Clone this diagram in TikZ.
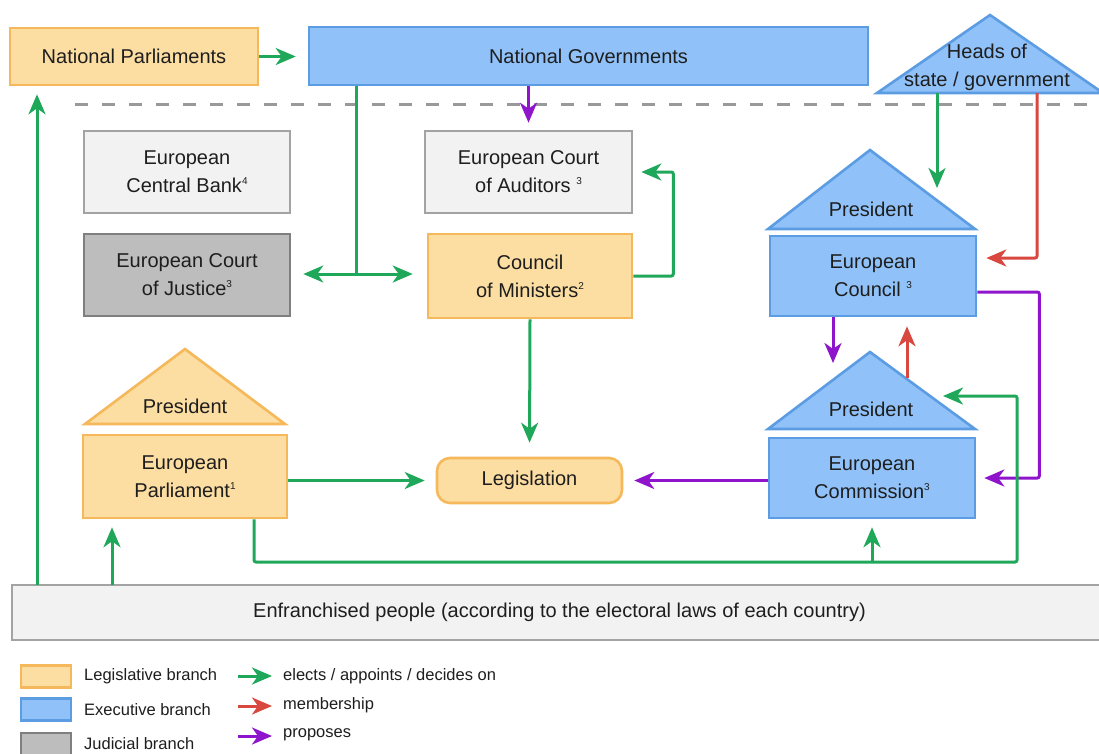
\documentclass[tikz,border=0pt]{standalone}
\usepackage{fontspec}
\setmainfont{Liberation Sans}
\usetikzlibrary{arrows.meta,calc}
\definecolor{ofill}{HTML}{FCDDA2}
\definecolor{odraw}{HTML}{F5B85A}
\definecolor{bfill}{HTML}{90C2F9}
\definecolor{bdraw}{HTML}{5B9CE2}
\definecolor{lgfill}{HTML}{F2F2F2}
\definecolor{lgdraw}{HTML}{A3A3A3}
\definecolor{dgfill}{HTML}{BDBDBD}
\definecolor{dgdraw}{HTML}{7F7F7F}
\definecolor{cgreen}{HTML}{1FA85A}
\definecolor{cred}{HTML}{D8483F}
\definecolor{cpurple}{HTML}{8E15CC}
\definecolor{cdash}{HTML}{999999}
\definecolor{txt}{HTML}{1E1E1E}
\newcommand{\sups}[1]{\raisebox{8pt}{\fontsize{10}{10}\selectfont #1}}
\begin{document}
\begin{tikzpicture}[x=1pt,y=-1pt,
  every node/.style={font=\fontsize{20}{28}\selectfont, text=txt, align=center, inner sep=0pt},
  obox/.style={draw=odraw, fill=ofill, line width=2.6pt},
  bbox/.style={draw=bdraw, fill=bfill, line width=2.6pt},
  lgbox/.style={draw=lgdraw, fill=lgfill, line width=2.6pt},
  dgbox/.style={draw=dgdraw, fill=dgfill, line width=2.6pt},
  arrtip/.style={-{Stealth[length=20pt,width=17pt,inset=6pt]}},
  ga/.style={draw=cgreen, line width=3pt, arrtip, rounded corners=2pt},
  ra/.style={draw=cred, line width=3pt, arrtip, rounded corners=2pt},
  pa/.style={draw=cpurple, line width=3pt, arrtip, rounded corners=2pt},
  legtext/.style={font=\fontsize{16.5}{16.5}\selectfont, anchor=west}
]
\useasboundingbox[fill=white] (0,0) rectangle (1099,753);

% dashed separator
\draw[draw=cdash, line width=3pt, dash pattern=on 13pt off 14pt] (75,104) -- (1099,104);

% top row
\node[obox, minimum width=248pt, minimum height=57pt] (np) at (134,56.5) {National Parliaments};
\node[bbox, minimum width=559pt, minimum height=58pt] (ng) at (588.5,56) {National Governments};
\filldraw[bbox] (877,93) -- (990,15) -- (1103,93) -- cycle;
\node (heads) at (987,67) {Heads of\\state / government};

% grey boxes
\node[lgbox, minimum width=206pt, minimum height=82pt] (ecb) at (187,172) {European\\Central Bank\sups{4}};
\node[lgbox, minimum width=207pt, minimum height=82pt] (eca) at (528.5,172) {European Court\\of Auditors \sups{3}};
\node[dgbox, minimum width=206pt, minimum height=82pt] (ecj) at (187,275) {European Court\\of Justice\sups{3}};
\node[obox, minimum width=204pt, minimum height=84pt] (com) at (530,276) {Council\\of Ministers\sups{2}};

% European Council
\filldraw[bbox] (768,229) -- (870,150) -- (975,229) -- cycle;
\node (cpres) at (871,209) {President};
\node[bbox, minimum width=206pt, minimum height=80pt] (council) at (873,276) {European\\Council \sups{3}};

% European Commission
\filldraw[bbox] (768,429) -- (870,352) -- (975,429) -- cycle;
\node (mpres) at (871,409) {President};
\node[bbox, minimum width=206pt, minimum height=80pt] (comm) at (872,478) {European\\Commission\sups{3}};

% European Parliament
\filldraw[obox] (85,424) -- (185,349) -- (285,424) -- cycle;
\node (ppres) at (185,406) {President};
\node[obox, minimum width=204pt, minimum height=83pt] (ep) at (185,476.5) {European\\Parliament\sups{1}};

% Legislation
\node[obox, rounded corners=13pt, minimum width=185pt, minimum height=45pt] (leg) at (529.5,480.5) {Legislation};

% people
\node[lgbox, minimum width=1095pt, minimum height=55pt] (people) at (559.5,612.5) {Enfranchised people (according to the electoral laws of each country)};

% coordinates
\coordinate (j1) at (356,274);
\coordinate (hb1) at (937,93);
\coordinate (hb1t) at (937,188);
\coordinate (hb2) at (1037,93);
\coordinate (mtl) at (833,363);
\coordinate (mtr) at (907,378);
\coordinate (lp1) at (254,562);
\coordinate (lp2) at (1017,562);
\coordinate (lp3) at (1017,396);
\coordinate (lpt) at (943,396);
\coordinate (pv1) at (112,585);
\coordinate (pv2) at (37,585);

% connectors
\draw[ga, shorten >=12pt] (np.east) -- (ng.west |- np.east);
\draw[pa, shorten >=7pt] (ng.south -| eca.north) -- (eca.north);
\draw[draw=cgreen, line width=3pt] (ng.south -| j1) -- (j1);
\draw[draw=cgreen, line width=3pt, {Stealth[length=20pt,width=17pt,inset=6pt]}-{Stealth[length=20pt,width=17pt,inset=6pt]}, shorten <=12pt, shorten >=14pt] (ecj.east |- j1) -- (com.west |- j1);
\draw[ga, shorten >=8pt] (com.east) -- ++(40,0) |- (eca.east);
\draw[ga, shorten >=14pt] (com.south) -- (leg.north);
\draw[ga, shorten >=11pt] (ep.east |- leg) -- (leg.west);
\draw[pa, shorten >=11pt] (comm.west |- leg) -- (leg.east);
\draw[ga] (hb1) -- (hb1t);
\draw[ra, shorten >=9pt] (hb2) |- ([yshift=18pt]council.east);
\draw[pa, shorten >=8pt] ([yshift=-16pt]council.east) -- ++(62,0) |- (comm.east);
\draw[pa] (council.south -| mtl) -- (mtl);
\draw[ra, shorten >=9pt] (mtr) -- (council.south -| mtr);
\draw[ga] (ep.south -| lp1) -- (lp1) -- (lp2) -- (lp3) -- (lpt);
\draw[ga, shorten >=8pt] (comm.south |- lp1) -- (comm.south);
\draw[ga, shorten >=8pt] (pv1) -- (ep.south -| pv1);
\draw[ga, shorten >=8pt] (pv2) -- (np.south -| pv2);

% legend
\node[obox, minimum width=50pt, minimum height=22pt] (k1) at (46,676.5) {};
\node[bbox, minimum width=50pt, minimum height=22pt] (k2) at (46,709.5) {};
\node[dgbox, minimum width=50pt, minimum height=22pt] (k3) at (46,744) {};
\node[legtext] (t1) at (84,676) {Legislative branch};
\node[legtext] (t2) at (84,710) {Executive branch};
\node[legtext] (t3) at (84,744) {Judicial branch};
\coordinate (a1s) at (238,676); \coordinate (a1e) at (272,676);
\coordinate (a2s) at (238,706); \coordinate (a2e) at (272,706);
\coordinate (a3s) at (238,736); \coordinate (a3e) at (272,736);
\draw[ga] (a1s) -- (a1e);
\draw[ra] (a2s) -- (a2e);
\draw[pa] (a3s) -- (a3e);
\node[legtext] (u1) at (283,676) {elects / appoints / decides on};
\node[legtext] (u2) at (283,705) {membership};
\node[legtext] (u3) at (283,735) {proposes};
\end{tikzpicture}
\end{document}
